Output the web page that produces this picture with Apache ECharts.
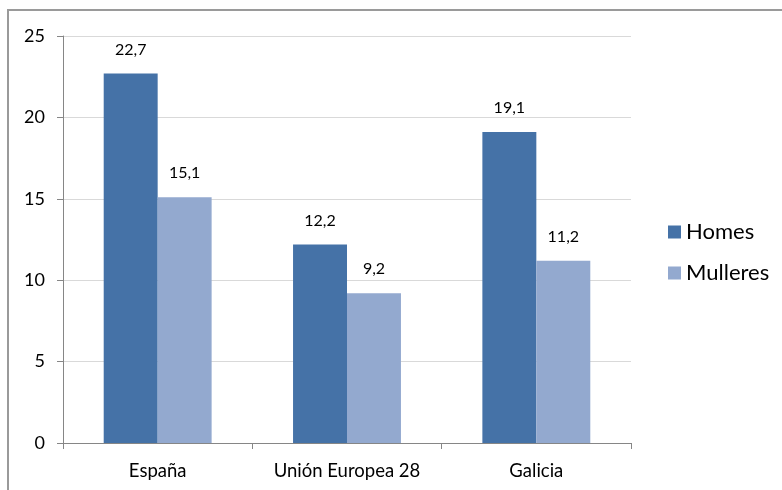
<!DOCTYPE html>
<html lang="gl">
<head>
    <meta charset="UTF-8">
    <title>Homes e mulleres</title>
    <script src="https://cdn.jsdelivr.net/npm/echarts@6/dist/echarts.min.js"></script>
    <style>
        html, body {
            margin: 0;
            height: 100%;
            background: #fff;
        }
    </style>
</head>
<body>
<div id="main" style="width: 782px;height: 490px"></div>
</body>
</html>
<script>
    // datos
    var categories = ['España', 'Unión Europea 28', 'Galicia'];
    var homes = [22.7, 12.2, 19.1];
    var mulleres = [15.1, 9.2, 11.2];
    var yTicks = [0, 5, 10, 15, 20, 25];

    var fontFam = 'Lato, "Open Sans", sans-serif';

    function coma(p) {
        return String(p.value.toFixed(1)).replace('.', ',');
    }

    var myChart = echarts.init(document.getElementById('main'));

    var option = {
        backgroundColor: '#fff',
        animation: false,
        textStyle: {fontFamily: fontFam},
        graphic: [{
            type: 'rect',
            shape: {x: 8, y: 10, width: 800, height: 500},
            style: {fill: 'none', stroke: '#9a9a9a', lineWidth: 2}
        }],
        grid: {left: 63, right: 151, top: 36, bottom: 47},
        legend: {
            orient: 'vertical',
            left: 668,
            top: 221,
            padding: 0,
            icon: 'rect',
            itemWidth: 13,
            itemHeight: 13,
            itemGap: 19,
            textStyle: {fontSize: 22, color: '#000', fontFamily: fontFam},
            data: ['Homes', 'Mulleres']
        },
        xAxis: {
            type: 'category',
            data: categories,
            axisLine: {lineStyle: {color: '#868686', width: 1}},
            axisTick: {show: true, length: 6, lineStyle: {color: '#868686'}},
            axisLabel: {
                interval: 0,
                hideOverlap: false,
                fontSize: 18.5,
                color: '#000',
                margin: 19,
                fontFamily: fontFam
            }
        },
        yAxis: {
            type: 'value',
            min: yTicks[0],
            max: yTicks[yTicks.length - 1],
            interval: 5,
            axisLine: {show: true, lineStyle: {color: '#868686', width: 1}},
            axisTick: {show: true, length: 6, lineStyle: {color: '#868686'}},
            axisLabel: {fontSize: 18, color: '#000', margin: 18, fontFamily: fontFam},
            splitLine: {lineStyle: {color: '#d9d9d9', width: 1}}
        },
        series: [{
            name: 'Homes',
            type: 'bar',
            data: homes,
            barGap: '0%',
            barCategoryGap: '43%',
            itemStyle: {color: '#4572a7'},
            label: {
                show: true,
                position: 'top',
                distance: 16,
                fontSize: 16,
                color: '#000',
                fontFamily: fontFam,
                formatter: coma
            }
        }, {
            name: 'Mulleres',
            type: 'bar',
            data: mulleres,
            itemStyle: {color: '#93a9cf'},
            label: {
                show: true,
                position: 'top',
                distance: 16,
                fontSize: 16,
                color: '#000',
                fontFamily: fontFam,
                formatter: coma
            }
        }]
    };

    myChart.setOption(option);
</script>
